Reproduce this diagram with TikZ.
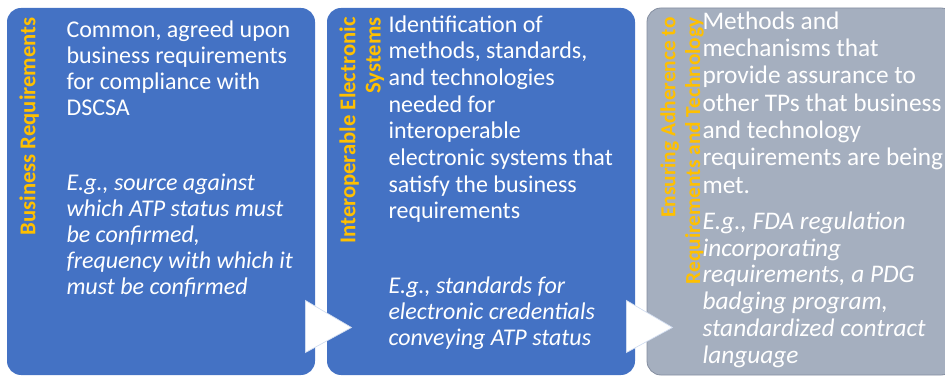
\documentclass[tikz,border=0pt]{standalone}
\usepackage{fontspec}
\setmainfont{Carlito}
\usepackage{xcolor}
\usetikzlibrary{calc}
\definecolor{boxblue}{RGB}{68,114,196}
\definecolor{boxgray}{RGB}{165,175,191}
\definecolor{grayedge}{RGB}{132,142,160}
\definecolor{taggold}{RGB}{255,192,0}
\tikzset{every picture/.style={line width=0.75pt}}

\begin{document}
\begin{tikzpicture}[x=0.75pt,y=0.75pt,yscale=-1,xscale=1,
  stage/.style={rectangle, rounded corners=10.5pt, minimum width=231pt, minimum height=275.25pt, inner sep=0pt},
  body/.style={anchor=north west, align=left, inner sep=0pt, text=white, font=\fontsize{18}{19.5}\selectfont},
  tag/.style={rotate=90, anchor=north east, align=right, inner sep=0pt, text=taggold, font=\fontsize{17}{19}\selectfont\bfseries},
  pointer/.style={fill=white, draw=boxblue!25, line width=0.5pt}]
\clip (0,0) rectangle (945,377);

%Shape: Rectangle [id:bizbox]
\node[stage, fill=boxblue] (bizbox) at (161,191.5) {};
%Shape: Rectangle [id:sysbox]
\node[stage, fill=boxblue] (sysbox) at (481,191.5) {};
%Shape: Rectangle [id:assurebox]
\node[stage, fill=boxgray, draw=grayedge, line width=0.6pt] (assurebox) at (801,191.5) {};

%Shape: Triangle [id:bizpointer]
\draw[pointer] ($(bizbox.south east)+(-10,-75)$) -- ($(bizbox.south east)+(36,-48)$) -- ($(bizbox.south east)+(-10,-23)$) -- cycle ;
%Shape: Triangle [id:syspointer]
\draw[pointer] ($(sysbox.south east)+(-9,-75)$) -- ($(sysbox.south east)+(37,-48)$) -- ($(sysbox.south east)+(-9,-23)$) -- cycle ;

% Text Node
\node[tag] (biztag) at (19,17) {Business Requirements};
% Text Node
\node[tag] (systag) at (339,17) {Interoperable Electronic\\Systems};
% Text Node
\node[tag, font=\fontsize{16}{18.5}\selectfont\bfseries] (assuretag) at (660,17) {Ensuring Adherence to\\Requirements and Technology};

% Text Node
\node[body] (biztext) at (66,20) {Common, agreed upon\\business requirements\\for compliance with\\DSCSA};
% Text Node
\node[body, font=\fontsize{18}{19.5}\selectfont\itshape] (bizeg) at (66,173) {E.g., source against\\which ATP status must\\be confirmed,\\frequency with which it\\must be confirmed};
% Text Node
\node[body, font=\fontsize{18}{20}\selectfont] (systext) at (388,15) {Identification of\\methods, standards,\\and technologies\\needed for\\interoperable\\electronic systems that\\satisfy the business\\requirements};
% Text Node
\node[body, font=\fontsize{18}{19.5}\selectfont\itshape] (syseg) at (388,276) {E.g., standards for\\electronic credentials\\conveying ATP status};
% Text Node
\node[body, font=\fontsize{19}{20.5}\selectfont] (assuretext) at (702,11) {Methods and\\mechanisms that\\provide assurance to\\other TPs that business\\and technology\\requirements are being\\met.};
% Text Node
\node[body, font=\fontsize{19}{20.2}\selectfont\itshape] (assureeg) at (702,211) {E.g., FDA regulation\\incorporating\\requirements, a PDG\\badging program,\\standardized contract\\language};

\end{tikzpicture}
\end{document}
